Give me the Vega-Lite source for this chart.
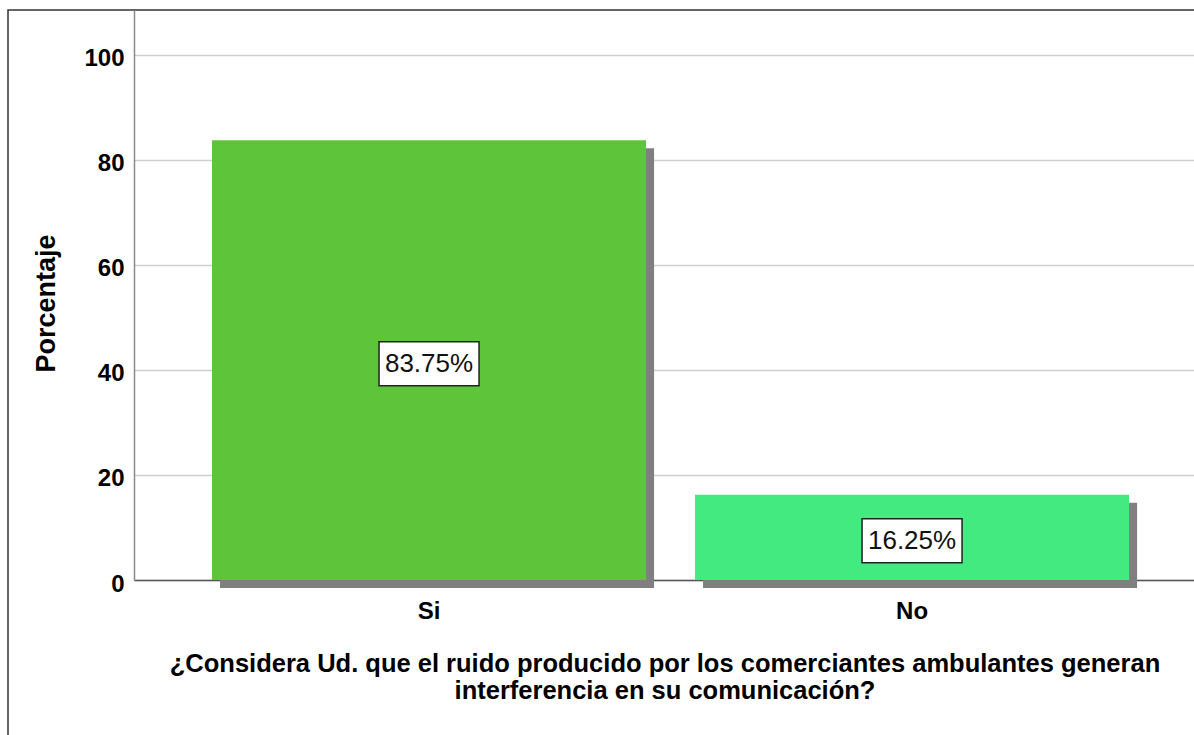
{
  "$schema": "https://vega.github.io/schema/vega-lite/v6.json",
  "padding": {"left": 7, "top": 9, "right": 0, "bottom": 0},
  "background": "white",
  "data": {
    "values": [
      {"respuesta": "Si", "porcentaje": 83.75, "etiqueta": "83.75%"},
      {"respuesta": "No", "porcentaje": 16.25, "etiqueta": "16.25%"}
    ]
  },
  "spacing": 0,
  "bounds": "flush",
  "config": {
    "font": "Liberation Sans",
    "view": {"stroke": null}
  },
  "hconcat": [
    {
      "width": 126,
      "height": 726,
      "view": {"stroke": "#333333", "strokeWidth": 1.5, "strokeDash": [126, 852, 726], "fill": null},
      "mark": {"type": "point", "opacity": 0},
      "encoding": {}
    },
    {
      "width": 1061,
      "height": 570,
      "view": {"stroke": "#333333", "strokeWidth": 1.5, "strokeDash": [1061, 4000]},
      "transform": [{"calculate": "datum.porcentaje / 2", "as": "mitad"}],
      "encoding": {
        "x": {
          "field": "respuesta",
          "type": "nominal",
          "sort": ["Si", "No"],
          "scale": {"paddingInner": 0.1014, "paddingOuter": 0.149, "align": 0.542},
          "axis": {
            "title": ["¿Considera Ud. que el ruido producido por los comerciantes ambulantes generan", "interferencia en su comunicación?"],
            "labelAngle": 0,
            "ticks": false,
            "tickSize": 0,
            "domainColor": "#555555",
            "domainWidth": 1.5,
            "labelFont": "Liberation Sans",
            "labelFontWeight": "bold",
            "labelFontSize": 24,
            "labelColor": "#000000",
            "labelPadding": 19,
            "titleFont": "Liberation Sans",
            "titleFontWeight": "bold",
            "titleFontSize": 25.5,
            "titleColor": "#000000",
            "titlePadding": 28,
            "titleLineHeight": 27
          }
        }
      },
      "layer": [
        {
          "mark": {"type": "bar", "color": "#7f7f7f", "xOffset": 8, "yOffset": 8},
          "encoding": {
            "y": {
              "field": "porcentaje",
              "type": "quantitative",
              "scale": {"domain": [0, 108.571], "nice": false, "zero": true},
              "axis": {
                "values": [0, 20, 40, 60, 80, 100],
                "title": "Porcentaje",
                "grid": true,
                "gridColor": "#cfcfcf",
                "gridWidth": 1.5,
                "domainColor": "#8a8a8a",
                "domainWidth": 1.5,
                "ticks": false,
                "tickSize": 0,
                "labelPadding": 10,
                "labelFont": "Liberation Sans",
                "labelFontWeight": "bold",
                "labelFontSize": 24,
                "labelColor": "#000000",
                "labelOffset": 4,
                "titleFont": "Liberation Sans",
                "titleFontWeight": "bold",
                "titleFontSize": 27,
                "titleColor": "#000000",
                "titleX": -88,
                "titleY": 293,
                "titleAngle": 270,
                "titleBaseline": "middle",
                "titleAlign": "center"
              }
            }
          }
        },
        {
          "mark": {"type": "bar"},
          "encoding": {
            "y": {"field": "porcentaje", "type": "quantitative"},
            "color": {
              "field": "respuesta",
              "type": "nominal",
              "scale": {"domain": ["Si", "No"], "range": ["#5ec43a", "#42ea80"]},
              "legend": null
            }
          }
        },
        {
          "mark": {
            "type": "point",
            "shape": "M-1,-0.44H1V0.44H-1Z",
            "size": 10000,
            "filled": true,
            "fill": "#ffffff",
            "stroke": "#222222",
            "strokeWidth": 1.5,
            "opacity": 1,
            "yOffset": 3.5
          },
          "encoding": {"y": {"field": "mitad", "type": "quantitative"}}
        },
        {
          "mark": {
            "type": "text",
            "font": "Liberation Sans",
            "fontSize": 26,
            "color": "#111111",
            "baseline": "middle",
            "align": "center",
            "yOffset": 3.5
          },
          "encoding": {
            "y": {"field": "mitad", "type": "quantitative"},
            "text": {"field": "etiqueta"}
          }
        }
      ]
    }
  ]
}
